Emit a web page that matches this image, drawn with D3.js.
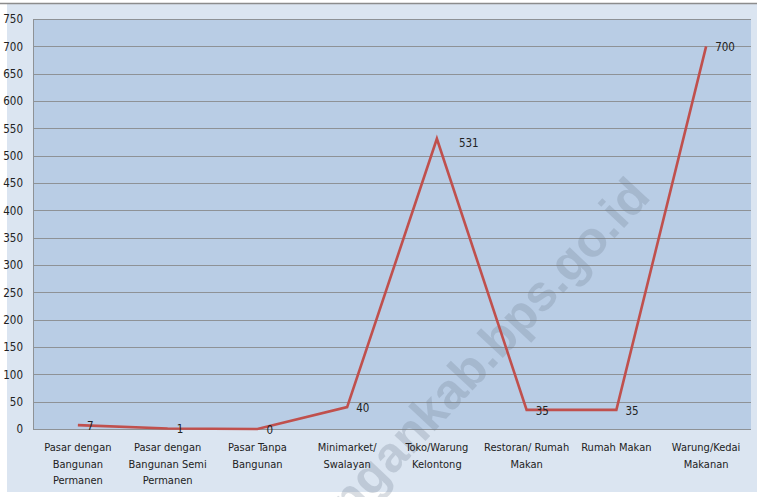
<!DOCTYPE html>
<html>
<head>
<meta charset="utf-8">
<script src="https://cdn.jsdelivr.net/npm/d3@7"></script>
<style>
  html, body { margin: 0; padding: 0; background: #fff; }
  svg { display: block; font-family: "DejaVu Sans Condensed", "Liberation Sans Narrow", sans-serif; }
</style>
</head>
<body>
<svg id="chart" width="757" height="497"></svg>
<script>
// categories (each label split into lines as in the original)
const categories = [
  ['Pasar dengan', 'Bangunan', 'Permanen'],
  ['Pasar dengan', 'Bangunan Semi', 'Permanen'],
  ['Pasar Tanpa', 'Bangunan'],
  ['Minimarket/', 'Swalayan'],
  ['Toko/Warung', 'Kelontong'],
  ['Restoran/ Rumah', 'Makan'],
  ['Rumah Makan'],
  ['Warung/Kedai', 'Makanan']
];
const values = [7, 1, 0, 40, 531, 35, 35, 700];
const yTicks = [0, 50, 100, 150, 200, 250, 300, 350, 400, 450, 500, 550, 600, 650, 700, 750];

const svg = d3.select('#chart');
const W = 757, H = 497;
const plot = { left: 33, right: 751, top: 19, bottom: 429 };

// outer background
svg.append('rect')
  .attr('x', 7).attr('y', 3).attr('width', W - 7).attr('height', 489)
  .attr('fill', '#dbe5f1');
svg.append('line')
  .attr('x1', 0).attr('x2', W).attr('y1', 3.5).attr('y2', 3.5)
  .attr('stroke', '#8c8c8c').attr('stroke-width', 1.5);

const x = d3.scaleBand()
  .domain(d3.range(categories.length))
  .range([plot.left, plot.right]);

const y = d3.scaleLinear()
  .domain([0, 750])
  .range([plot.bottom, plot.top]);

// plot area
svg.append('rect')
  .attr('x', plot.left).attr('y', plot.top)
  .attr('width', plot.right - plot.left).attr('height', plot.bottom - plot.top)
  .attr('fill', '#b9cde5');

// gridlines
svg.append('g')
  .selectAll('line')
  .data(yTicks)
  .join('line')
  .attr('x1', plot.left).attr('x2', plot.right)
  .attr('y1', d => Math.round(y(d)) + 0.5).attr('y2', d => Math.round(y(d)) + 0.5)
  .attr('stroke', '#8e9296').attr('stroke-width', 1.2);

svg.append('line')
  .attr('x1', plot.left + 0.5).attr('x2', plot.left + 0.5)
  .attr('y1', plot.top).attr('y2', plot.bottom)
  .attr('stroke', '#8e9296');

// y axis labels
const yAxis = svg.append('g')
  .attr('transform', `translate(${plot.left},0)`)
  .call(d3.axisLeft(y).tickValues(yTicks).tickSize(0).tickPadding(10));
yAxis.select('.domain').remove();
yAxis.selectAll('text')
  .attr('font-size', 11.5)
  .attr('fill', '#222')
  .attr('font-family', '"DejaVu Sans Condensed", sans-serif');

// watermark
svg.append('text')
  .attr('transform', 'translate(652,198) rotate(-47)')
  .attr('text-anchor', 'end')
  .attr('font-family', '"Liberation Sans", "DejaVu Sans", sans-serif')
  .attr('font-weight', 'bold')
  .attr('font-size', 50)
  .attr('fill', '#6d7a8e')
  .attr('fill-opacity', 0.26)
  .text('lamongankab.bps.go.id');

// x labels
const xl = svg.append('g');
categories.forEach((lines, i) => {
  const t = xl.append('text')
    .attr('x', x(i) + x.bandwidth() / 2)
    .attr('y', 451)
    .attr('text-anchor', 'middle')
    .attr('font-size', 11)
    .attr('fill', '#222');
  lines.forEach((ln, j) => {
    t.append('tspan')
      .attr('x', x(i) + x.bandwidth() / 2)
      .attr('dy', j === 0 ? 0 : 16.5)
      .text(ln);
  });
});

// line
const line = d3.line()
  .x((d, i) => x(i) + x.bandwidth() / 2)
  .y(d => y(d));

svg.append('path')
  .datum(values)
  .attr('d', line)
  .attr('fill', 'none')
  .attr('stroke', '#c0504d')
  .attr('stroke-width', 2.6)
  .attr('stroke-linejoin', 'miter');

// data labels
svg.append('g')
  .selectAll('text')
  .data(values)
  .join('text')
  .attr('x', (d, i) => x(i) + x.bandwidth() / 2 + (d === 531 ? 22 : 9))
  .attr('y', d => y(d) + (d === 531 ? 8 : 5))
  .attr('font-size', 11.5)
  .attr('fill', '#222')
  .text(d => d);
</script>
</body>
</html>
